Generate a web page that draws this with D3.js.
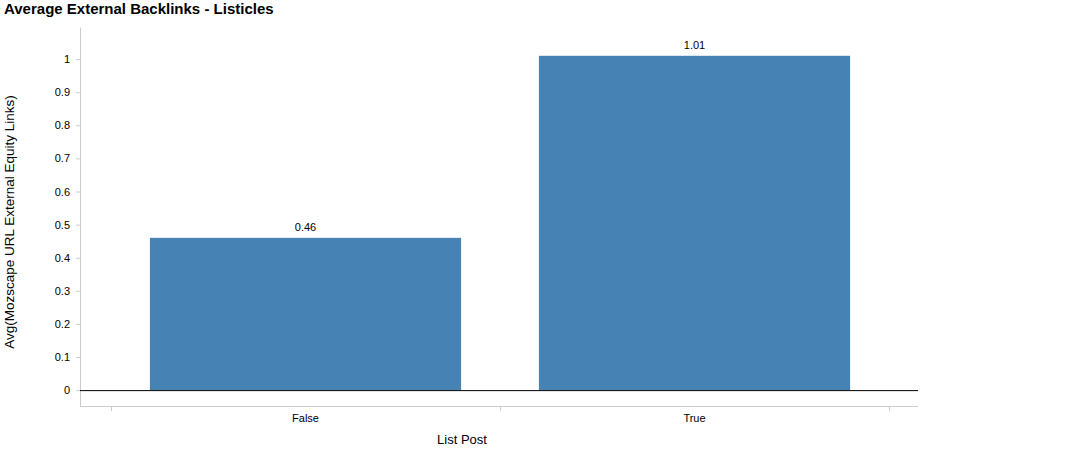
<!DOCTYPE html>
<html lang="en">
<head>
	<meta charset="utf-8"/>
	<title>Average External Backlinks - Listicles</title>
	<script src="https://d3js.org/d3.v7.min.js"></script>
	<style>
		body { margin: 0; background: #fff; font-family: "Liberation Sans", Arial, sans-serif; }
		.axis .domain { stroke: #ccc; }
		.axis .tick line { stroke: #ccc; }
		.axis text { fill: #000; font-size: 11px; font-family: "Liberation Sans", Arial, sans-serif; }
	</style>
</head>
<body>
<div id="chart"></div>
<script>
	// data
	var categories = ["False", "True"];
	var values = [0.46, 1.01];
	var yTicks = [0, 0.1, 0.2, 0.3, 0.4, 0.5, 0.6, 0.7, 0.8, 0.9, 1];

	var width = 1074,
		height = 449;

	var svg = d3.select("#chart").append("svg")
		.attr("width", width)
		.attr("height", height);

	// plot box (window.top is reserved, so use other names)
	var plotLeft = 80, plotRight = 918, plotTop = 27, plotBottom = 406;

	var x = d3.scaleBand()
		.domain(categories)
		.range([111, 889])
		.paddingInner(0.2)
		.paddingOuter(0.1);

	var y = d3.scaleLinear()
		.domain([-0.048, 1.097])
		.range([plotBottom, plotTop]);

	svg.append("text")
		.attr("x", 4)
		.attr("y", 14)
		.attr("font-size", "15px")
		.attr("font-weight", "bold")
		.attr("fill", "#000")
		.text("Average External Backlinks - Listicles");

	// y axis
	svg.append("g")
		.attr("class", "axis")
		.attr("transform", "translate(" + plotLeft + ",0)")
		.call(d3.axisLeft(y).tickValues(yTicks).tickFormat(function(d) { return String(d); })
			.tickSize(4).tickSizeOuter(0).tickPadding(6));

	// x axis, ticks on band edges
	var edges = [111, 500, 889];
	var xg = svg.append("g").attr("class", "axis");
	xg.append("line")
		.attr("x1", plotLeft).attr("x2", plotRight)
		.attr("y1", plotBottom + 0.5).attr("y2", plotBottom + 0.5)
		.attr("stroke", "#ccc");
	xg.selectAll(".edge")
		.data(edges)
		.enter().append("line")
		.attr("x1", function(d) { return d + 0.5; })
		.attr("x2", function(d) { return d + 0.5; })
		.attr("y1", plotBottom)
		.attr("y2", plotBottom + 5)
		.attr("stroke", "#ccc");
	xg.selectAll(".cat")
		.data(categories)
		.enter().append("text")
		.attr("x", function(d) { return x(d) + x.bandwidth() / 2; })
		.attr("y", 422)
		.attr("text-anchor", "middle")
		.text(function(d) { return d; });

	// bars
	svg.append("g")
		.selectAll("rect")
		.data(values)
		.enter().append("rect")
		.attr("x", function(d, i) { return x(categories[i]); })
		.attr("y", function(d) { return y(d); })
		.attr("width", x.bandwidth())
		.attr("height", function(d) { return y(0) - y(d); })
		.attr("fill", "steelblue");

	// value labels
	svg.append("g")
		.selectAll("text")
		.data(values)
		.enter().append("text")
		.attr("x", function(d, i) { return x(categories[i]) + x.bandwidth() / 2; })
		.attr("y", function(d) { return y(d) - 7; })
		.attr("text-anchor", "middle")
		.attr("font-size", "11px")
		.attr("fill", "#000")
		.text(function(d) { return d.toFixed(2); });

	// zero line
	svg.append("line")
		.attr("x1", plotLeft).attr("x2", plotRight)
		.attr("y1", y(0) + 0.5).attr("y2", y(0) + 0.5)
		.attr("stroke", "#000");

	// axis titles
	svg.append("text")
		.attr("transform", "translate(14,222) rotate(-90)")
		.attr("text-anchor", "middle")
		.attr("font-size", "13.5px")
		.attr("fill", "#000")
		.text("Avg(Mozscape URL External Equity Links)");

	svg.append("text")
		.attr("x", 462)
		.attr("y", 444)
		.attr("text-anchor", "middle")
		.attr("font-size", "13px")
		.attr("fill", "#000")
		.text("List Post");
</script>
</body>
</html>
